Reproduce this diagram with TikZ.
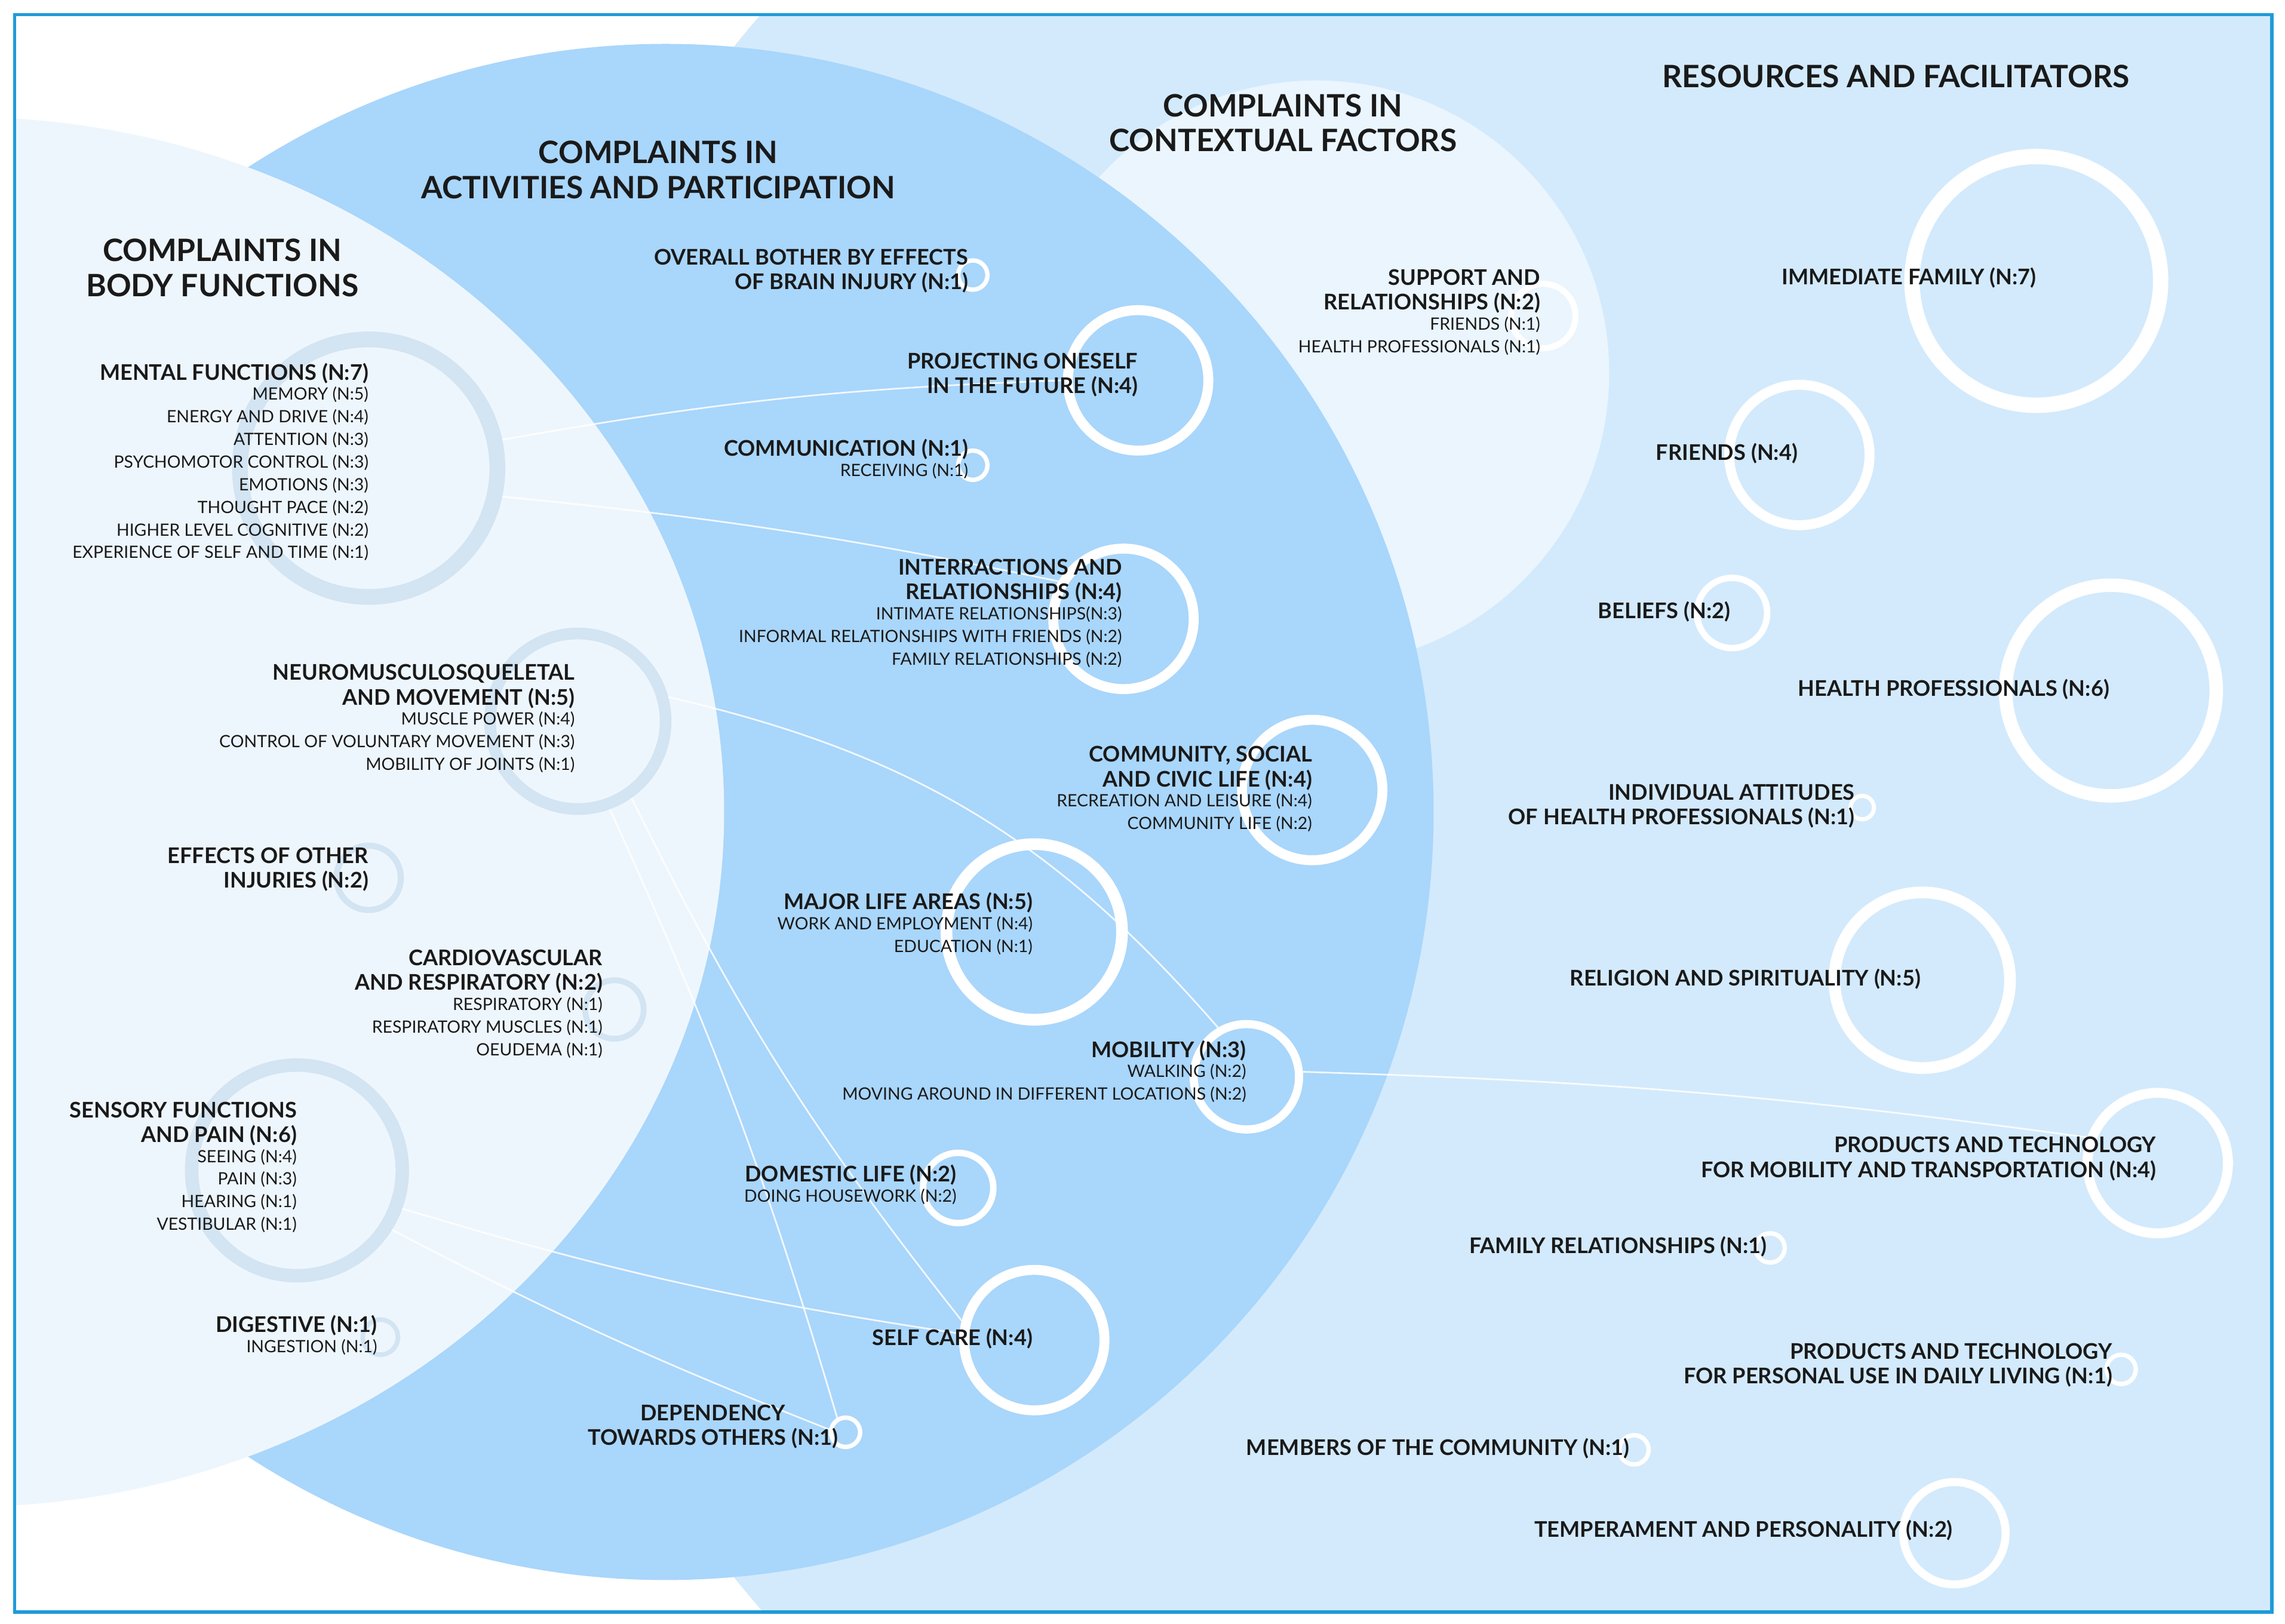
\documentclass[tikz,border=0pt]{standalone}
\usepackage{fontspec}
\setmainfont{Lato}
\usepackage{xcolor}
\usetikzlibrary{positioning,calc}
\definecolor{frameblue}{HTML}{1E9BD9}
\definecolor{resblue}{HTML}{D3EAFC}
\definecolor{ctxblue}{HTML}{EAF5FE}
\definecolor{actblue}{HTML}{A9D6FB}
\definecolor{bodyblue}{HTML}{EEF6FD}
\definecolor{bodyring}{HTML}{D3E4F2}
\definecolor{ink}{HTML}{1A1A1A}
\tikzset{
  ring/.style={circle,draw=white,inner sep=0pt,minimum size=#1*0.1cm,line width={(2+#1/10)*0.05cm}},
  bring/.style={ring=#1,draw=bodyring},
  head/.style={font=\fontsize{30}{34}\selectfont\bfseries,text=ink,align=center},
  lab/.style={font=\fontsize{21}{24}\selectfont\bfseries,text=ink,align=right,anchor=north east,inner sep=0pt},
  sub/.style={font=\fontsize{16.5}{22}\selectfont,text=ink,align=right,inner sep=0pt},
  link/.style={white,opacity=0.85,line width=1.6pt}
}
\begin{document}
\begin{tikzpicture}[x=0.05cm,y=-0.05cm]
        %background
        \useasboundingbox (0,0) rectangle (1562,1110);
        \fill[white] (0,0) rectangle (1562,1110);
        \begin{scope}
            \clip (10,10) rectangle (1553,1102);
            \fill[resblue] (1150,555) circle (833);
            \fill[ctxblue] (900,255) circle (200);
            \fill[actblue] (455,555) circle (525);
            \fill[bodyblue] (-25,555) ellipse (520 and 475);
        \end{scope}
        \draw[frameblue,line width=0.12cm] (10,10) rectangle (1553,1102);
        
        %titles
        \node[head] (tBody) at (152,183) {COMPLAINTS IN\\BODY FUNCTIONS};
        \node[head] (tAct) at (450,116) {COMPLAINTS IN\\ACTIVITIES AND PARTICIPATION};
        \node[head] (tCtx) at (877,84) {COMPLAINTS IN\\CONTEXTUAL FACTORS};
        \node[head] (tRes) at (1296,52) {RESOURCES AND FACILITATORS};
        
        %rings
        \node[bring=88] (mental) at (252,320) {};
        \node[bring=60] (neuro) at (395,493) {};
        \node[bring=22] (injur) at (252,600) {};
        \node[bring=20] (cardio) at (420,690) {};
        \node[bring=72] (sensory) at (203,800) {};
        \node[bring=12] (digest) at (260,914) {};
        \node[ring=10] (bother) at (665,188) {};
        \node[ring=48] (project) at (778,260) {};
        \node[ring=10] (commu) at (665,318) {};
        \node[ring=48] (interact) at (768,423) {};
        \node[ring=48] (civic) at (897,540) {};
        \node[ring=60] (major) at (707,637) {};
        \node[ring=36] (mobil) at (852,736) {};
        \node[ring=24] (domestic) at (655,812) {};
        \node[ring=48] (selfcare) at (707,916) {};
        \node[ring=10] (depend) at (578,979) {};
        \node[ring=22] (support) at (1055,216) {};
        \node[ring=85] (family) at (1392,192) {};
        \node[ring=48] (friends) at (1230,311) {};
        \node[ring=24] (beliefs) at (1184,419) {};
        \node[ring=72] (healthpro) at (1443,472) {};
        \node[ring=8] (attitude) at (1273,552) {};
        \node[ring=60] (religion) at (1314,670) {};
        \node[ring=48] (prodmob) at (1475,795) {};
        \node[ring=10] (famrel) at (1210,853) {};
        \node[ring=10] (prodliv) at (1450,936) {};
        \node[ring=10] (members) at (1117,991) {};
        \node[ring=35] (temper) at (1336,1048) {};
        
        %links
        \draw[link] (mental.12) to[bend left=4] (project.180);
        \draw[link] (mental.-12) to[bend left=3] (interact.150);
        \draw[link] (neuro.15) to[bend left=18] (mobil.120);
        \draw[link] (neuro.-55) to[bend right=6] (selfcare.165);
        \draw[link] (neuro.-70) to[bend left=4] (depend.120);
        \draw[link] (sensory.-20) to[bend right=4] (selfcare.175);
        \draw[link] (sensory.-32) to[bend right=3] (depend.170);
        \draw[link] (mobil.5) to[bend left=3] (prodmob.160);
        
        %body labels
        \node[lab] (lMental) at (252,248) {MENTAL FUNCTIONS (N:7)};
        \node[sub,anchor=north east] at ([yshift=-3pt]lMental.south east) {MEMORY (N:5)\\ENERGY AND DRIVE (N:4)\\ATTENTION (N:3)\\PSYCHOMOTOR CONTROL (N:3)\\EMOTIONS (N:3)\\THOUGHT PACE (N:2)\\HIGHER LEVEL COGNITIVE (N:2)\\EXPERIENCE OF SELF AND TIME (N:1)};
        \node[lab] (lNeuro) at (393,454) {NEUROMUSCULOSQUELETAL\\AND MOVEMENT (N:5)};
        \node[sub,anchor=north east] at ([yshift=-3pt]lNeuro.south east) {MUSCLE POWER (N:4)\\CONTROL OF VOLUNTARY MOVEMENT (N:3)\\MOBILITY OF JOINTS (N:1)};
        \node[lab] (lInjur) at (252,579) {EFFECTS OF OTHER\\INJURIES (N:2)};
        \node[lab] (lCardio) at (412,649) {CARDIOVASCULAR\\AND RESPIRATORY (N:2)};
        \node[sub,anchor=north east] at ([yshift=-3pt]lCardio.south east) {RESPIRATORY (N:1)\\RESPIRATORY MUSCLES (N:1)\\OEUDEMA (N:1)};
        \node[lab] (lSensory) at (203,753) {SENSORY FUNCTIONS\\AND PAIN (N:6)};
        \node[sub,anchor=north east] at ([yshift=-3pt]lSensory.south east) {SEEING (N:4)\\PAIN (N:3)\\HEARING (N:1)\\VESTIBULAR (N:1)};
        \node[lab] (lDigest) at (258,899) {DIGESTIVE (N:1)};
        \node[sub,anchor=north east] at ([yshift=-3pt]lDigest.south east) {INGESTION (N:1)};
        
        %activity labels
        \node[lab] (lBother) at (662,170) {OVERALL BOTHER BY EFFECTS\\OF BRAIN INJURY (N:1)};
        \node[lab] (lProject) at (778,241) {PROJECTING ONESELF\\IN THE FUTURE (N:4)};
        \node[lab] (lCommu) at (662,300) {COMMUNICATION (N:1)};
        \node[sub,anchor=north east] at ([yshift=-3pt]lCommu.south east) {RECEIVING (N:1)};
        \node[lab] (lInteract) at (767,382) {INTERRACTIONS AND\\RELATIONSHIPS (N:4)};
        \node[sub,anchor=north east] at ([yshift=-3pt]lInteract.south east) {INTIMATE RELATIONSHIPS(N:3)\\INFORMAL RELATIONSHIPS WITH FRIENDS (N:2)\\FAMILY RELATIONSHIPS (N:2)};
        \node[lab] (lCivic) at (897,510) {COMMUNITY, SOCIAL\\AND CIVIC LIFE (N:4)};
        \node[sub,anchor=north east] at ([yshift=-3pt]lCivic.south east) {RECREATION AND LEISURE (N:4)\\COMMUNITY LIFE (N:2)};
        \node[lab] (lMajor) at (706,610) {MAJOR LIFE AREAS (N:5)};
        \node[sub,anchor=north east] at ([yshift=-3pt]lMajor.south east) {WORK AND EMPLOYMENT (N:4)\\EDUCATION (N:1)};
        \node[lab] (lMobil) at (852,711) {MOBILITY (N:3)};
        \node[sub,anchor=north east] at ([yshift=-3pt]lMobil.south east) {WALKING (N:2)\\MOVING AROUND IN DIFFERENT LOCATIONS (N:2)};
        \node[lab] (lDomestic) at (654,796) {DOMESTIC LIFE (N:2)};
        \node[sub,anchor=north east] at ([yshift=-3pt]lDomestic.south east) {DOING HOUSEWORK (N:2)};
        \node[lab] (lSelfcare) at (706,908) {SELF CARE (N:4)};
        \node[lab,align=center] (lDepend) at (573,960) {DEPENDENCY\\TOWARDS OTHERS (N:1)};
        
        %context labels
        \node[lab] (lSupport) at (1053,184) {SUPPORT AND\\RELATIONSHIPS (N:2)};
        \node[sub,anchor=north east] at ([yshift=-3pt]lSupport.south east) {FRIENDS (N:1)\\HEALTH PROFESSIONALS (N:1)};
        
        %resource labels
        \node[lab] (lFamily) at (1392,183) {IMMEDIATE FAMILY (N:7)};
        \node[lab] (lFriends) at (1229,303) {FRIENDS (N:4)};
        \node[lab] (lBeliefs) at (1183,411) {BELIEFS (N:2)};
        \node[lab] (lHealthpro) at (1442,464) {HEALTH PROFESSIONALS (N:6)};
        \node[lab] (lAttitude) at (1268,536) {INDIVIDUAL ATTITUDES\\OF HEALTH PROFESSIONALS (N:1)};
        \node[lab] (lReligion) at (1313,662) {RELIGION AND SPIRITUALITY (N:5)};
        \node[lab] (lProdmob) at (1474,777) {PRODUCTS AND TECHNOLOGY\\FOR MOBILITY AND TRANSPORTATION (N:4)};
        \node[lab] (lFamrel) at (1208,845) {FAMILY RELATIONSHIPS (N:1)};
        \node[lab] (lProdliv) at (1444,918) {PRODUCTS AND TECHNOLOGY\\FOR PERSONAL USE IN DAILY LIVING (N:1)};
        \node[lab] (lMembers) at (1114,983) {MEMBERS OF THE COMMUNITY (N:1)};
        \node[lab] (lTemper) at (1335,1039) {TEMPERAMENT AND PERSONALITY (N:2)};
\end{tikzpicture}
\end{document}
